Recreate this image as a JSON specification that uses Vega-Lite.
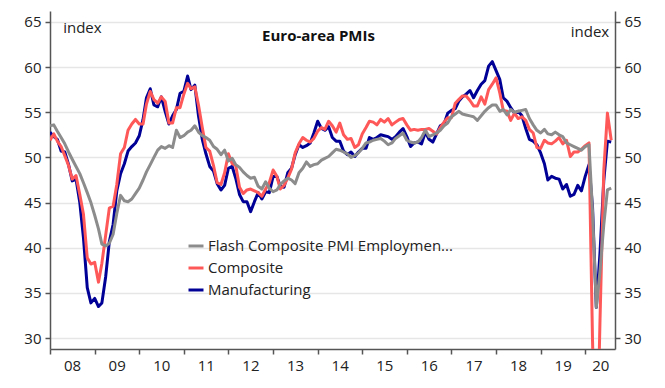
{
  "$schema": "https://vega.github.io/schema/vega-lite/v6.json",
  "width": 565,
  "height": 338,
  "autosize": {"type": "none"},
  "padding": {"left": 50, "top": 11, "right": 50, "bottom": 39},
  "background": "white",
  "title": {"text": "Euro-area PMIs", "anchor": "middle", "frame": "group", "orient": "top", "offset": -45, "baseline": "alphabetic", "dx": -14, "font": "Open Sans", "fontSize": 15, "fontWeight": "bold", "color": "#111111"},
  "config": {"view": {"stroke": null}, "font": "Open Sans"},
  "data": {"values": [
    {"date":"2008-01-01","Manufacturing":52.8,"Composite":51.9,"Flash Composite PMI Employment":53.5},
    {"date":"2008-02-01","Manufacturing":52.3,"Composite":52.6,"Flash Composite PMI Employment":53.6},
    {"date":"2008-03-01","Manufacturing":52.0,"Composite":51.8,"Flash Composite PMI Employment":52.9},
    {"date":"2008-04-01","Manufacturing":50.7,"Composite":51.2,"Flash Composite PMI Employment":52.2},
    {"date":"2008-05-01","Manufacturing":50.6,"Composite":50.2,"Flash Composite PMI Employment":51.5},
    {"date":"2008-06-01","Manufacturing":49.2,"Composite":49.1,"Flash Composite PMI Employment":50.6},
    {"date":"2008-07-01","Manufacturing":47.4,"Composite":47.6,"Flash Composite PMI Employment":49.8},
    {"date":"2008-08-01","Manufacturing":47.6,"Composite":48.0,"Flash Composite PMI Employment":49.0},
    {"date":"2008-09-01","Manufacturing":45.0,"Composite":45.9,"Flash Composite PMI Employment":48.2},
    {"date":"2008-10-01","Manufacturing":41.1,"Composite":43.7,"Flash Composite PMI Employment":47.2},
    {"date":"2008-11-01","Manufacturing":35.6,"Composite":38.9,"Flash Composite PMI Employment":46.1},
    {"date":"2008-12-01","Manufacturing":33.9,"Composite":38.2,"Flash Composite PMI Employment":45.0},
    {"date":"2009-01-01","Manufacturing":34.4,"Composite":38.4,"Flash Composite PMI Employment":43.6},
    {"date":"2009-02-01","Manufacturing":33.5,"Composite":36.2,"Flash Composite PMI Employment":42.1},
    {"date":"2009-03-01","Manufacturing":33.9,"Composite":38.3,"Flash Composite PMI Employment":40.4},
    {"date":"2009-04-01","Manufacturing":36.8,"Composite":41.4,"Flash Composite PMI Employment":40.2},
    {"date":"2009-05-01","Manufacturing":40.7,"Composite":44.4,"Flash Composite PMI Employment":40.5},
    {"date":"2009-06-01","Manufacturing":42.6,"Composite":44.6,"Flash Composite PMI Employment":41.5},
    {"date":"2009-07-01","Manufacturing":46.3,"Composite":47.0,"Flash Composite PMI Employment":43.8},
    {"date":"2009-08-01","Manufacturing":48.2,"Composite":50.4,"Flash Composite PMI Employment":45.8},
    {"date":"2009-09-01","Manufacturing":49.3,"Composite":51.1,"Flash Composite PMI Employment":45.2},
    {"date":"2009-10-01","Manufacturing":50.7,"Composite":53.0,"Flash Composite PMI Employment":45.1},
    {"date":"2009-11-01","Manufacturing":51.2,"Composite":53.7,"Flash Composite PMI Employment":45.4},
    {"date":"2009-12-01","Manufacturing":51.6,"Composite":54.2,"Flash Composite PMI Employment":46.0},
    {"date":"2010-01-01","Manufacturing":52.4,"Composite":53.7,"Flash Composite PMI Employment":46.6},
    {"date":"2010-02-01","Manufacturing":54.2,"Composite":53.7,"Flash Composite PMI Employment":47.5},
    {"date":"2010-03-01","Manufacturing":56.6,"Composite":55.9,"Flash Composite PMI Employment":48.4},
    {"date":"2010-04-01","Manufacturing":57.6,"Composite":57.3,"Flash Composite PMI Employment":49.2},
    {"date":"2010-05-01","Manufacturing":55.8,"Composite":56.4,"Flash Composite PMI Employment":50.0},
    {"date":"2010-06-01","Manufacturing":55.6,"Composite":56.0,"Flash Composite PMI Employment":50.8},
    {"date":"2010-07-01","Manufacturing":56.7,"Composite":56.7,"Flash Composite PMI Employment":51.2},
    {"date":"2010-08-01","Manufacturing":55.1,"Composite":56.2,"Flash Composite PMI Employment":51.0},
    {"date":"2010-09-01","Manufacturing":53.7,"Composite":53.8,"Flash Composite PMI Employment":51.3},
    {"date":"2010-10-01","Manufacturing":54.6,"Composite":53.8,"Flash Composite PMI Employment":51.1},
    {"date":"2010-11-01","Manufacturing":55.3,"Composite":55.5,"Flash Composite PMI Employment":53.0},
    {"date":"2010-12-01","Manufacturing":57.1,"Composite":55.5,"Flash Composite PMI Employment":52.2},
    {"date":"2011-01-01","Manufacturing":57.3,"Composite":57.0,"Flash Composite PMI Employment":52.4},
    {"date":"2011-02-01","Manufacturing":59.0,"Composite":58.2,"Flash Composite PMI Employment":52.8},
    {"date":"2011-03-01","Manufacturing":57.5,"Composite":57.6,"Flash Composite PMI Employment":53.0},
    {"date":"2011-04-01","Manufacturing":58.0,"Composite":57.8,"Flash Composite PMI Employment":53.5},
    {"date":"2011-05-01","Manufacturing":54.6,"Composite":55.8,"Flash Composite PMI Employment":52.8},
    {"date":"2011-06-01","Manufacturing":52.0,"Composite":53.3,"Flash Composite PMI Employment":52.4},
    {"date":"2011-07-01","Manufacturing":50.4,"Composite":51.1,"Flash Composite PMI Employment":52.2},
    {"date":"2011-08-01","Manufacturing":49.0,"Composite":50.7,"Flash Composite PMI Employment":51.9},
    {"date":"2011-09-01","Manufacturing":48.5,"Composite":49.1,"Flash Composite PMI Employment":51.2},
    {"date":"2011-10-01","Manufacturing":47.1,"Composite":47.2,"Flash Composite PMI Employment":50.9},
    {"date":"2011-11-01","Manufacturing":46.4,"Composite":47.0,"Flash Composite PMI Employment":50.3},
    {"date":"2011-12-01","Manufacturing":46.9,"Composite":48.3,"Flash Composite PMI Employment":50.8},
    {"date":"2012-01-01","Manufacturing":48.8,"Composite":50.4,"Flash Composite PMI Employment":49.6},
    {"date":"2012-02-01","Manufacturing":49.0,"Composite":49.3,"Flash Composite PMI Employment":49.9},
    {"date":"2012-03-01","Manufacturing":47.7,"Composite":49.1,"Flash Composite PMI Employment":49.2},
    {"date":"2012-04-01","Manufacturing":45.9,"Composite":46.7,"Flash Composite PMI Employment":48.9},
    {"date":"2012-05-01","Manufacturing":45.1,"Composite":46.0,"Flash Composite PMI Employment":48.4},
    {"date":"2012-06-01","Manufacturing":45.1,"Composite":46.4,"Flash Composite PMI Employment":48.0},
    {"date":"2012-07-01","Manufacturing":44.0,"Composite":46.5,"Flash Composite PMI Employment":47.7},
    {"date":"2012-08-01","Manufacturing":45.1,"Composite":46.3,"Flash Composite PMI Employment":47.8},
    {"date":"2012-09-01","Manufacturing":46.1,"Composite":46.1,"Flash Composite PMI Employment":46.8},
    {"date":"2012-10-01","Manufacturing":45.4,"Composite":45.7,"Flash Composite PMI Employment":46.5},
    {"date":"2012-11-01","Manufacturing":46.2,"Composite":46.5,"Flash Composite PMI Employment":47.3},
    {"date":"2012-12-01","Manufacturing":46.1,"Composite":47.2,"Flash Composite PMI Employment":46.6},
    {"date":"2013-01-01","Manufacturing":47.9,"Composite":48.6,"Flash Composite PMI Employment":46.2},
    {"date":"2013-02-01","Manufacturing":47.9,"Composite":47.9,"Flash Composite PMI Employment":46.4},
    {"date":"2013-03-01","Manufacturing":46.8,"Composite":46.5,"Flash Composite PMI Employment":47.0},
    {"date":"2013-04-01","Manufacturing":46.7,"Composite":46.9,"Flash Composite PMI Employment":47.4},
    {"date":"2013-05-01","Manufacturing":48.3,"Composite":47.7,"Flash Composite PMI Employment":47.7},
    {"date":"2013-06-01","Manufacturing":48.8,"Composite":48.7,"Flash Composite PMI Employment":47.5},
    {"date":"2013-07-01","Manufacturing":50.3,"Composite":50.5,"Flash Composite PMI Employment":47.1},
    {"date":"2013-08-01","Manufacturing":51.4,"Composite":51.5,"Flash Composite PMI Employment":48.3},
    {"date":"2013-09-01","Manufacturing":51.1,"Composite":52.2,"Flash Composite PMI Employment":48.8},
    {"date":"2013-10-01","Manufacturing":51.3,"Composite":51.9,"Flash Composite PMI Employment":49.5},
    {"date":"2013-11-01","Manufacturing":51.6,"Composite":51.7,"Flash Composite PMI Employment":49.0},
    {"date":"2013-12-01","Manufacturing":52.7,"Composite":52.1,"Flash Composite PMI Employment":49.2},
    {"date":"2014-01-01","Manufacturing":54.0,"Composite":52.9,"Flash Composite PMI Employment":49.3},
    {"date":"2014-02-01","Manufacturing":53.2,"Composite":53.3,"Flash Composite PMI Employment":49.7},
    {"date":"2014-03-01","Manufacturing":53.0,"Composite":53.1,"Flash Composite PMI Employment":49.9},
    {"date":"2014-04-01","Manufacturing":53.4,"Composite":54.0,"Flash Composite PMI Employment":50.1},
    {"date":"2014-05-01","Manufacturing":52.2,"Composite":53.5,"Flash Composite PMI Employment":50.5},
    {"date":"2014-06-01","Manufacturing":51.8,"Composite":52.8,"Flash Composite PMI Employment":50.9},
    {"date":"2014-07-01","Manufacturing":51.8,"Composite":53.8,"Flash Composite PMI Employment":50.8},
    {"date":"2014-08-01","Manufacturing":50.7,"Composite":52.5,"Flash Composite PMI Employment":50.6},
    {"date":"2014-09-01","Manufacturing":50.3,"Composite":52.0,"Flash Composite PMI Employment":50.4},
    {"date":"2014-10-01","Manufacturing":50.6,"Composite":52.1,"Flash Composite PMI Employment":50.0},
    {"date":"2014-11-01","Manufacturing":50.1,"Composite":51.1,"Flash Composite PMI Employment":50.2},
    {"date":"2014-12-01","Manufacturing":50.6,"Composite":51.4,"Flash Composite PMI Employment":50.5},
    {"date":"2015-01-01","Manufacturing":51.0,"Composite":52.6,"Flash Composite PMI Employment":51.0},
    {"date":"2015-02-01","Manufacturing":51.0,"Composite":53.3,"Flash Composite PMI Employment":51.6},
    {"date":"2015-03-01","Manufacturing":52.2,"Composite":54.0,"Flash Composite PMI Employment":51.7},
    {"date":"2015-04-01","Manufacturing":52.0,"Composite":53.9,"Flash Composite PMI Employment":51.9},
    {"date":"2015-05-01","Manufacturing":52.2,"Composite":53.6,"Flash Composite PMI Employment":52.0},
    {"date":"2015-06-01","Manufacturing":52.5,"Composite":54.2,"Flash Composite PMI Employment":52.1},
    {"date":"2015-07-01","Manufacturing":52.4,"Composite":53.9,"Flash Composite PMI Employment":51.8},
    {"date":"2015-08-01","Manufacturing":52.3,"Composite":54.3,"Flash Composite PMI Employment":51.4},
    {"date":"2015-09-01","Manufacturing":52.0,"Composite":53.6,"Flash Composite PMI Employment":51.6},
    {"date":"2015-10-01","Manufacturing":52.3,"Composite":53.9,"Flash Composite PMI Employment":52.1},
    {"date":"2015-11-01","Manufacturing":52.8,"Composite":54.2,"Flash Composite PMI Employment":52.4},
    {"date":"2015-12-01","Manufacturing":53.2,"Composite":54.3,"Flash Composite PMI Employment":52.7},
    {"date":"2016-01-01","Manufacturing":52.3,"Composite":53.6,"Flash Composite PMI Employment":51.9},
    {"date":"2016-02-01","Manufacturing":51.2,"Composite":53.0,"Flash Composite PMI Employment":51.7},
    {"date":"2016-03-01","Manufacturing":51.6,"Composite":53.1,"Flash Composite PMI Employment":51.6},
    {"date":"2016-04-01","Manufacturing":51.7,"Composite":53.0,"Flash Composite PMI Employment":51.7},
    {"date":"2016-05-01","Manufacturing":51.5,"Composite":53.1,"Flash Composite PMI Employment":52.2},
    {"date":"2016-06-01","Manufacturing":52.8,"Composite":53.1,"Flash Composite PMI Employment":53.0},
    {"date":"2016-07-01","Manufacturing":52.0,"Composite":53.2,"Flash Composite PMI Employment":52.3},
    {"date":"2016-08-01","Manufacturing":51.7,"Composite":52.9,"Flash Composite PMI Employment":52.5},
    {"date":"2016-09-01","Manufacturing":52.6,"Composite":52.6,"Flash Composite PMI Employment":52.7},
    {"date":"2016-10-01","Manufacturing":53.5,"Composite":53.3,"Flash Composite PMI Employment":53.0},
    {"date":"2016-11-01","Manufacturing":53.7,"Composite":53.9,"Flash Composite PMI Employment":53.5},
    {"date":"2016-12-01","Manufacturing":54.9,"Composite":54.4,"Flash Composite PMI Employment":53.8},
    {"date":"2017-01-01","Manufacturing":55.2,"Composite":54.4,"Flash Composite PMI Employment":54.5},
    {"date":"2017-02-01","Manufacturing":55.4,"Composite":56.0,"Flash Composite PMI Employment":54.8},
    {"date":"2017-03-01","Manufacturing":56.2,"Composite":56.4,"Flash Composite PMI Employment":55.1},
    {"date":"2017-04-01","Manufacturing":56.7,"Composite":56.8,"Flash Composite PMI Employment":54.8},
    {"date":"2017-05-01","Manufacturing":57.0,"Composite":56.8,"Flash Composite PMI Employment":54.7},
    {"date":"2017-06-01","Manufacturing":57.4,"Composite":56.3,"Flash Composite PMI Employment":54.6},
    {"date":"2017-07-01","Manufacturing":56.6,"Composite":55.7,"Flash Composite PMI Employment":54.5},
    {"date":"2017-08-01","Manufacturing":57.4,"Composite":55.7,"Flash Composite PMI Employment":54.1},
    {"date":"2017-09-01","Manufacturing":58.1,"Composite":56.7,"Flash Composite PMI Employment":54.6},
    {"date":"2017-10-01","Manufacturing":58.5,"Composite":55.9,"Flash Composite PMI Employment":55.1},
    {"date":"2017-11-01","Manufacturing":60.1,"Composite":57.5,"Flash Composite PMI Employment":55.5},
    {"date":"2017-12-01","Manufacturing":60.6,"Composite":58.1,"Flash Composite PMI Employment":55.8},
    {"date":"2018-01-01","Manufacturing":59.6,"Composite":58.8,"Flash Composite PMI Employment":55.8},
    {"date":"2018-02-01","Manufacturing":58.6,"Composite":57.1,"Flash Composite PMI Employment":55.1},
    {"date":"2018-03-01","Manufacturing":56.6,"Composite":55.2,"Flash Composite PMI Employment":55.3},
    {"date":"2018-04-01","Manufacturing":56.2,"Composite":55.1,"Flash Composite PMI Employment":54.7},
    {"date":"2018-05-01","Manufacturing":55.5,"Composite":54.1,"Flash Composite PMI Employment":55.3},
    {"date":"2018-06-01","Manufacturing":54.9,"Composite":54.9,"Flash Composite PMI Employment":55.0},
    {"date":"2018-07-01","Manufacturing":55.1,"Composite":54.3,"Flash Composite PMI Employment":55.1},
    {"date":"2018-08-01","Manufacturing":54.6,"Composite":54.5,"Flash Composite PMI Employment":55.2},
    {"date":"2018-09-01","Manufacturing":53.2,"Composite":54.1,"Flash Composite PMI Employment":55.3},
    {"date":"2018-10-01","Manufacturing":52.0,"Composite":53.1,"Flash Composite PMI Employment":54.3},
    {"date":"2018-11-01","Manufacturing":51.8,"Composite":52.7,"Flash Composite PMI Employment":53.6},
    {"date":"2018-12-01","Manufacturing":51.4,"Composite":51.1,"Flash Composite PMI Employment":53.0},
    {"date":"2019-01-01","Manufacturing":50.5,"Composite":51.0,"Flash Composite PMI Employment":52.7},
    {"date":"2019-02-01","Manufacturing":49.3,"Composite":51.9,"Flash Composite PMI Employment":53.1},
    {"date":"2019-03-01","Manufacturing":47.5,"Composite":51.6,"Flash Composite PMI Employment":52.6},
    {"date":"2019-04-01","Manufacturing":47.9,"Composite":51.5,"Flash Composite PMI Employment":52.5},
    {"date":"2019-05-01","Manufacturing":47.7,"Composite":51.8,"Flash Composite PMI Employment":52.8},
    {"date":"2019-06-01","Manufacturing":47.6,"Composite":52.2,"Flash Composite PMI Employment":52.5},
    {"date":"2019-07-01","Manufacturing":46.5,"Composite":51.5,"Flash Composite PMI Employment":52.3},
    {"date":"2019-08-01","Manufacturing":47.0,"Composite":51.9,"Flash Composite PMI Employment":51.6},
    {"date":"2019-09-01","Manufacturing":45.7,"Composite":50.1,"Flash Composite PMI Employment":51.4},
    {"date":"2019-10-01","Manufacturing":45.9,"Composite":50.6,"Flash Composite PMI Employment":51.2},
    {"date":"2019-11-01","Manufacturing":46.9,"Composite":50.6,"Flash Composite PMI Employment":51.0},
    {"date":"2019-12-01","Manufacturing":46.3,"Composite":50.9,"Flash Composite PMI Employment":50.8},
    {"date":"2020-01-01","Manufacturing":47.9,"Composite":51.3,"Flash Composite PMI Employment":51.2},
    {"date":"2020-02-01","Manufacturing":49.2,"Composite":51.6,"Flash Composite PMI Employment":51.4},
    {"date":"2020-03-01","Manufacturing":44.5,"Composite":29.7,"Flash Composite PMI Employment":44.0},
    {"date":"2020-04-01","Manufacturing":33.4,"Composite":13.6,"Flash Composite PMI Employment":33.4},
    {"date":"2020-05-01","Manufacturing":39.4,"Composite":31.9,"Flash Composite PMI Employment":37.4},
    {"date":"2020-06-01","Manufacturing":47.4,"Composite":48.5,"Flash Composite PMI Employment":42.5},
    {"date":"2020-07-01","Manufacturing":51.8,"Composite":54.9,"Flash Composite PMI Employment":46.4},
    {"date":"2020-08-01","Manufacturing":51.7,"Composite":51.9,"Flash Composite PMI Employment":46.6}
  ]},
  "transform": [
    {"fold": ["Manufacturing", "Composite", "Flash Composite PMI Employment"], "as": ["series", "value"]}
  ],
  "encoding": {
    "x": {
      "field": "date", "type": "temporal",
      "scale": {"type": "utc", "domain": [{"year": 2008, "month": 1, "date": 1, "utc": true}, {"year": 2020, "month": 9, "date": 1, "utc": true}], "nice": false},
      "axis": {
        "format": "%y", "tickCount": {"interval": "year", "step": 1},
        "labelOffset": {"condition": {"test": "utcyear(datum.value) == 2020", "value": 15}, "value": 22},
        "labelFlush": false, "labelOverlap": false, "labelBound": false,
        "grid": false, "domainColor": "#555555", "domainWidth": 1.5,
        "tickColor": "#555555", "tickSize": 5, "tickWidth": 1.5,
        "labelFont": "Open Sans", "labelFontSize": 15, "labelColor": "#222222", "labelPadding": 4,
        "title": null
      }
    }
  },
  "layer": [
    {
      "transform": [{"filter": "datum.series == 'Manufacturing'"}],
      "mark": {"type": "line", "strokeWidth": 3, "clip": true, "strokeJoin": "round"},
      "encoding": {
        "y": {
          "field": "value", "type": "quantitative",
          "scale": {"domain": [28.8, 66.2], "nice": false, "zero": false},
          "axis": {
            "orient": "left", "values": [30, 35, 40, 45, 50, 55, 60, 65],
            "grid": true, "gridColor": "#e6e6e6", "gridWidth": 1.5,
            "domainColor": "#555555", "domainWidth": 1.5,
            "tickColor": "#555555", "tickSize": 5, "tickWidth": 1.5,
            "labelFont": "Open Sans", "labelFontSize": 15, "labelColor": "#222222", "labelPadding": 4,
            "title": "index", "titleAngle": 0, "titleAlign": "left", "titleBaseline": "alphabetic",
            "titleX": 12.7, "titleY": 21.5, "titleFont": "Open Sans", "titleFontSize": 15,
            "titleFontWeight": "normal", "titleColor": "#222222"
          }
        },
        "color": {
          "field": "series", "type": "nominal",
          "scale": {"domain": ["Flash Composite PMI Employment", "Composite", "Manufacturing"], "range": ["#8c8c8c", "#ff5858", "#000096"]},
          "legend": {
            "orient": "none", "legendX": 137, "legendY": 226, "title": null,
            "symbolType": "stroke", "symbolSize": 225, "symbolStrokeWidth": 3,
            "labelFont": "Open Sans", "labelFontSize": 15, "labelColor": "#222222",
            "labelExpr": "datum.label == 'Flash Composite PMI Employment' ? 'Flash Composite PMI Employmen...' : datum.label",
            "labelLimit": 300, "rowPadding": 5, "labelOffset": 3, "padding": 0
          }
        }
      }
    },
    {
      "transform": [{"filter": "datum.series == 'Composite'"}],
      "mark": {"type": "line", "strokeWidth": 3, "clip": true, "strokeJoin": "round"},
      "encoding": {
        "y": {"field": "value", "type": "quantitative", "axis": null},
        "color": {"field": "series", "type": "nominal"}
      }
    },
    {
      "transform": [{"filter": "datum.series == 'Flash Composite PMI Employment'"}],
      "mark": {"type": "line", "strokeWidth": 3, "clip": true, "strokeJoin": "round"},
      "encoding": {
        "y": {"field": "value", "type": "quantitative", "axis": null},
        "color": {"field": "series", "type": "nominal"}
      }
    },
    {
      "transform": [{"filter": "datum.series == 'Manufacturing'"}],
      "mark": {"type": "line", "opacity": 0, "clip": true},
      "encoding": {
        "y": {
          "field": "value", "type": "quantitative",
          "axis": {
            "orient": "right", "values": [30, 35, 40, 45, 50, 55, 60, 65],
            "grid": false,
            "domainColor": "#555555", "domainWidth": 1.5,
            "tickColor": "#555555", "tickSize": 5, "tickWidth": 1.5,
            "labelFont": "Open Sans", "labelFontSize": 15, "labelColor": "#222222", "labelPadding": 4,
            "title": "index", "titleAngle": 0, "titleAlign": "right", "titleBaseline": "alphabetic",
            "titleX": -6.3, "titleY": 25.7, "titleFont": "Open Sans", "titleFontSize": 15,
            "titleFontWeight": "normal", "titleColor": "#222222"
          }
        }
      }
    }
  ],
  "resolve": {"axis": {"y": "independent"}}
}
